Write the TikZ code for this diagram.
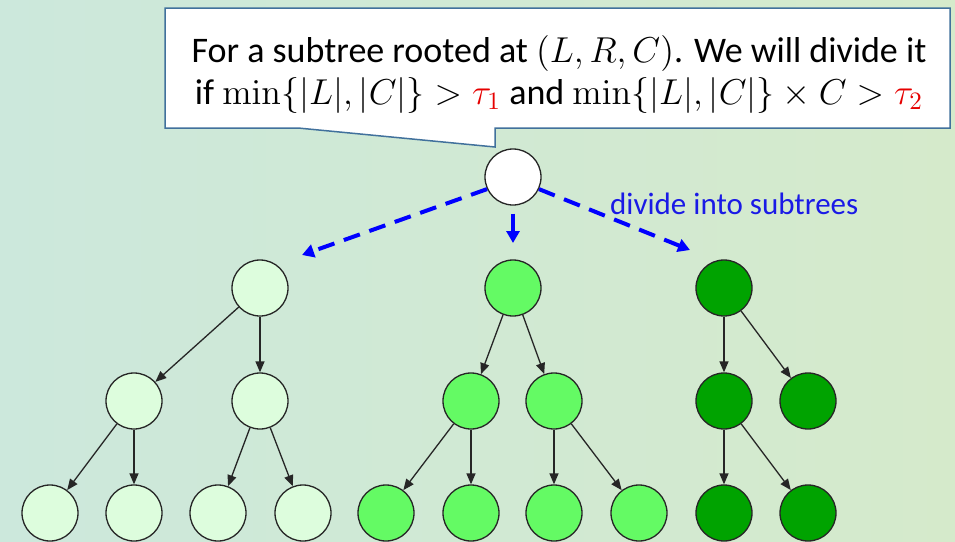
\documentclass[tikz,border=0pt]{standalone}
\usepackage[no-math]{fontspec}
\setmainfont{Carlito}
\usetikzlibrary{arrows.meta}
\definecolor{bgL}{HTML}{CCE8DC}
\definecolor{bgR}{HTML}{D5EACB}
\definecolor{boxline}{HTML}{41719C}
\definecolor{tlight}{HTML}{DDFDDD}
\definecolor{tmid}{HTML}{64FA64}
\definecolor{tdark}{HTML}{00A300}
\definecolor{divblue}{HTML}{1A1AE6}
\definecolor{taured}{HTML}{E60000}
\tikzset{
  tn/.style={circle, draw=black!85, line width=1.3pt, minimum size=56pt, inner sep=0pt},
  edge/.style={draw=black!85, line width=1.3pt, -{Triangle[length=11pt,width=9pt]}},
  divarrow/.style={draw=blue, line width=4pt, -{Triangle[length=12pt,width=13pt]}},
  divdash/.style={divarrow, dash pattern=on 17pt off 10pt},
}
\begin{document}
\begin{tikzpicture}[x=1pt,y=-1pt]
\useasboundingbox (0,0) rectangle (955,541);
\fill[left color=bgL, right color=bgR] (0,0) rectangle (955,541);
% callout
\draw[fill=white, draw=boxline, line width=1.5pt]
  (165,8) -- (950,8) -- (950,128) -- (495,128) -- (495,147) -- (298,128) -- (165,128) -- cycle;
\node[align=center, font=\fontsize{14.4}{16.8}\selectfont, inner sep=0pt, scale=2.5] (txt) at (559,74)
  {For a subtree rooted at $(L,R,C)$. We will divide it\\
   if $\min\{|L|,|C|\}>{\color{taured}\tau_1}$ and $\min\{|L|,|C|\}\times C>{\color{taured}\tau_2}$};
% root
\node[tn, fill=white] (r0) at (513,177) {};
% tree 1
\node[tn, fill=tlight] (a0) at (260,288) {};
\node[tn, fill=tlight] (a1) at (134,401) {};
\node[tn, fill=tlight] (a2) at (260,401) {};
\node[tn, fill=tlight] (a3) at (50,513) {};
\node[tn, fill=tlight] (a4) at (134,513) {};
\node[tn, fill=tlight] (a5) at (218,513) {};
\node[tn, fill=tlight] (a6) at (303,513) {};
% tree 2
\node[tn, fill=tmid] (b0) at (513,288) {};
\node[tn, fill=tmid] (b1) at (471,401) {};
\node[tn, fill=tmid] (b2) at (554,401) {};
\node[tn, fill=tmid] (b3) at (386,513) {};
\node[tn, fill=tmid] (b4) at (471,513) {};
\node[tn, fill=tmid] (b5) at (554,513) {};
\node[tn, fill=tmid] (b6) at (639,513) {};
% tree 3
\node[tn, fill=tdark] (c0) at (724,288) {};
\node[tn, fill=tdark] (c1) at (724,401) {};
\node[tn, fill=tdark] (c2) at (808,401) {};
\node[tn, fill=tdark] (c3) at (724,513) {};
\node[tn, fill=tdark] (c4) at (808,513) {};
% edges
\draw[edge] (a0) -- (a1);
\draw[edge] (a0) -- (a2);
\draw[edge] (a1) -- (a3);
\draw[edge] (a1) -- (a4);
\draw[edge] (a2) -- (a5);
\draw[edge] (a2) -- (a6);
\draw[edge] (b0) -- (b1);
\draw[edge] (b0) -- (b2);
\draw[edge] (b1) -- (b3);
\draw[edge] (b1) -- (b4);
\draw[edge] (b2) -- (b5);
\draw[edge] (b2) -- (b6);
\draw[edge] (c0) -- (c1);
\draw[edge] (c0) -- (c2);
\draw[edge] (c1) -- (c3);
\draw[edge] (c1) -- (c4);
% divide arrows
\coordinate (dl) at (302,255);
\coordinate (dm) at (513,243);
\coordinate (dr) at (690,250);
\draw[divdash] (r0.205) -- (dl);
\draw[divarrow] ([yshift=-8pt]r0.south) -- (dm);
\draw[divdash] (r0.-25) -- (dr);
\node[text=divblue, font=\fontsize{31}{36}\selectfont, anchor=base west, inner sep=0pt] (lbl) at (610,214) {divide into subtrees};
\end{tikzpicture}
\end{document}
